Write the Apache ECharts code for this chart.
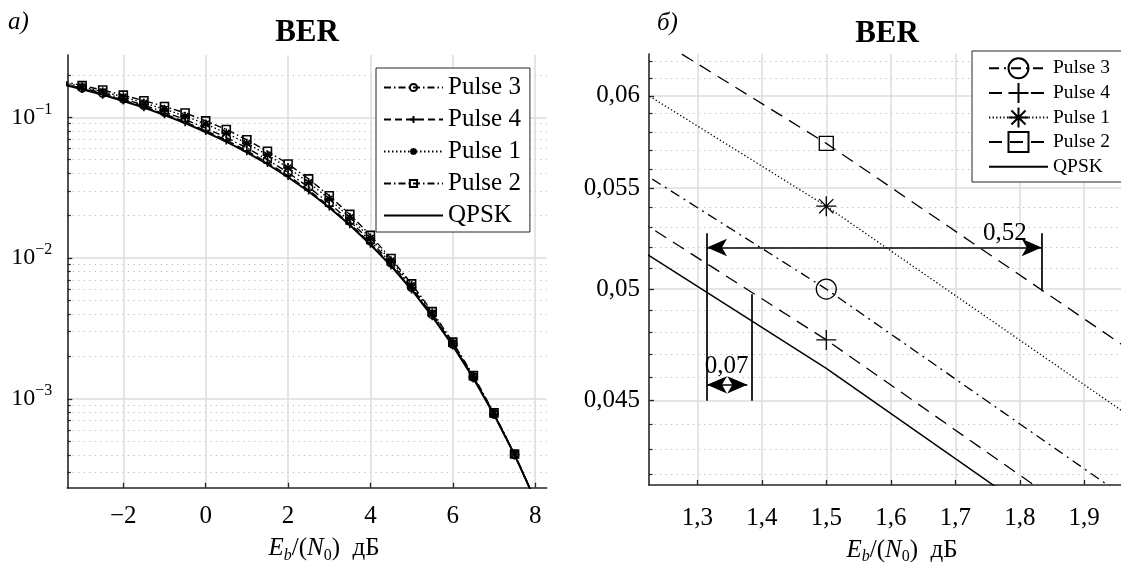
<!DOCTYPE html>
<html><head><meta charset="utf-8">
<script src="https://cdn.jsdelivr.net/npm/echarts@6/dist/echarts.min.js"></script>
<style>html,body{margin:0;padding:0;background:#fff}#c{width:1121px;height:563px}</style>
</head><body><div id="c"></div>
<script>
// ---------- data ----------
const ebn0   = [-3.5,-3,-2.5,-2,-1.5,-1,-0.5,0,0.5,1,1.5,2,2.5,3,3.5,4,4.5,5,5.5,6,6.5,7,7.5,8];
const qpsk   = [0.1724,0.1584,0.1445,0.1307,0.1171,0.1038,0.0910,0.0786,0.0671,0.0563,0.0464,0.0375,0.0297,0.0229,0.01717,0.0125,0.0088,0.00596,0.00386,0.00239,0.0014,0.000773,0.0004,0.000191];
const pulse3 = [0.1758,0.1616,0.1488,0.1353,0.1218,0.1090,0.0965,0.0837,0.0718,0.0606,0.0500,0.04045,0.0319,0.0245,0.01829,0.01325,0.00924,0.0062,0.00398,0.00245,0.001428,0.000781,0.000402,0.000191];
const pulse4 = [0.1741,0.1600,0.1459,0.1327,0.1189,0.1059,0.0928,0.0806,0.0689,0.05787,0.04766,0.03853,0.03044,0.0234,0.01751,0.01273,0.00893,0.00603,0.0039,0.00241,0.001407,0.000776,0.000401,0.000191];
const pulse1 = [0.1776,0.1647,0.1517,0.1398,0.1265,0.1142,0.1019,0.0896,0.0772,0.06534,0.05407,0.0438,0.03445,0.02634,0.0194,0.01388,0.00959,0.00638,0.00407,0.00249,0.001442,0.000788,0.000404,0.000192];
const pulse2 = [0.1810,0.1679,0.1561,0.1438,0.1312,0.1194,0.1074,0.0943,0.0819,0.06924,0.05737,0.04664,0.03653,0.02771,0.02043,0.0145,0.00994,0.00656,0.00417,0.00253,0.001463,0.000796,0.000406,0.000193];

const seriesNames = ['Pulse 3','Pulse 4','Pulse 1','Pulse 2','QPSK'];

// axis ranges and ticks
const xRangeA = [-3.36, 8.28];
const yRangeA = [2.34e-4, 0.277];
const xRangeB = [1.2251, 1.957];
const yRangeB = [0.04156, 0.06242];
const xTicksA = [-2,0,2,4,6,8];
const yTicksA = [1e-3,1e-2,1e-1];
const yMinorA = [3e-4,4e-4,5e-4,6e-4,7e-4,8e-4,9e-4,2e-3,3e-3,4e-3,5e-3,6e-3,7e-3,8e-3,9e-3,0.02,0.03,0.04,0.05,0.06,0.07,0.08,0.09,0.2];
const xTicksB = [1.3,1.4,1.5,1.6,1.7,1.8,1.9];
const yTicksB = [0.045,0.05,0.055,0.06];
const yMinorB = [0.042,0.043,0.044,0.046,0.047,0.048,0.049,0.051,0.052,0.053,0.054,0.056,0.057,0.058,0.059,0.061,0.062];

// dimension annotations (dB, BER)
const dimBase = 0.045, dimTop = 0.0527;
const gap052 = {from: 1.315, to: 1.834, toBer: 0.0499, arrowBer: 0.0520, text: '0,52', textAt: [1.777, 0.05272]};
const gap007 = {from: 1.315, to: 1.3837, toBer: 0.04976, arrowTo: 1.3775, arrowBer: 0.04568, text: '0,07', textAt: [1.3456, 0.04650]};

// ---------- styles ----------
const FONT = "'Liberation Serif', 'Times New Roman', Times, serif";
const AX = '#262626';
const GRIDC = '#dcdcdc';
const MINORC = '#bcbcbc';
const PLUS = 'path://M0,-10L0,10M-10,0L10,0';
const STAR = 'path://M0,-10L0,10M-10,0L10,0M-7.07,-7.07L7.07,7.07M-7.07,7.07L7.07,-7.07';
const DASHDOT_A = [7,3,1.5,3], DASHED_A = [7,4], DOTTED_A = [1.5,2.5];
const DASHDOT_B = [10,5,2,5], DASHED_B = [13,8], DOTTED_B = [1.3,2.3];
const look = {
  'Pulse 3': {sym:'circle', a:DASHDOT_A, b:DASHDOT_B, sa:8, sb:20},
  'Pulse 4': {sym:PLUS,     a:DASHED_A,  b:DASHED_B,  sa:9, sb:20},
  'Pulse 1': {sym:STAR,     a:DOTTED_A,  b:DOTTED_B,  sa:9, sb:20},
  'Pulse 2': {sym:'rect',   a:DASHDOT_A, b:DASHED_B,  sa:8, sb:14},
  'QPSK':    {sym:'none',   a:'solid',   b:'solid',   sa:0, sb:0}
};
const valuesByName = {'Pulse 3':pulse3,'Pulse 4':pulse4,'Pulse 1':pulse1,'Pulse 2':pulse2,'QPSK':qpsk};

function mkSeries(name, panel) {
  const L = look[name];
  const isQ = name === 'QPSK';
  const vals = valuesByName[name];
  return {
    type: 'line',
    name: panel === 0 ? name : 'б ' + name,
    xAxisIndex: panel, yAxisIndex: panel === 0 ? 0 : 2,
    data: ebn0.map((x, i) => [x, vals[i]]),
    symbol: L.sym,
    symbolSize: panel === 0 ? L.sa : L.sb,
    showAllSymbol: true,
    clip: true,
    silent: true,
    z: isQ ? 4 : 3,
    lineStyle: {color: '#000', width: isQ ? (panel === 0 ? 2 : 1.5) : (panel === 0 ? 1.4 : 1.3), type: panel === 0 ? L.a : L.b},
    itemStyle: {color: 'transparent', borderColor: isQ ? 'transparent' : '#000', borderWidth: isQ ? 0 : (panel === 0 ? 1.6 : 1.3)},
    emphasis: {disabled: true}
  };
}

const tickFont = {fontFamily: FONT, fontSize: 25, color: '#000'};
const nameRich = {
  it: {fontFamily: FONT, fontSize: 25, fontStyle: 'italic', color: '#000', lineHeight: 30},
  n:  {fontFamily: FONT, fontSize: 25, color: '#000', lineHeight: 30},
  si: {fontFamily: FONT, fontSize: 16, fontStyle: 'italic', color: '#000', lineHeight: 16, verticalAlign: 'bottom'},
  s:  {fontFamily: FONT, fontSize: 16, color: '#000', lineHeight: 16, verticalAlign: 'bottom'}
};
const xName = '{it|E}{si|b}{n|/(}{it|N}{s|0}{n|)  дБ}';

function xAxisCfg(grid, range, ticks, fmt, margin, gap) {
  return {
    type: 'value', gridIndex: grid, min: range[0], max: range[1],
    axisLine: {onZero: false, lineStyle: {color: AX, width: 1.6}},
    axisTick: {inside: true, length: 5, customValues: ticks, lineStyle: {color: AX, width: 1.3}},
    axisLabel: Object.assign({customValues: ticks, formatter: fmt, margin: margin}, tickFont),
    splitLine: {show: true, lineStyle: {color: GRIDC, width: 1.5}},
    name: xName, nameLocation: 'middle', nameGap: gap, nameMoveOverlap: false,
    nameTextStyle: {rich: nameRich, padding: [0, 0, 0, 34]}
  };
}
function yMainCfg(grid, range, ticks, label, margin) {
  return {
    type: 'log', gridIndex: grid, min: range[0], max: range[1], position: 'left',
    axisLine: {show: true, onZero: false, lineStyle: {color: AX, width: 1.6}},
    axisTick: {inside: true, length: 5, customValues: ticks, lineStyle: {color: AX, width: 1.3}},
    axisLabel: Object.assign({customValues: ticks, margin: margin}, label),
    splitLine: {show: true, lineStyle: {color: GRIDC, width: 1.5}},
    minorTick: {show: false}, minorSplitLine: {show: false}
  };
}
function yMinorCfg(grid, range, ticks) {
  return {
    type: 'log', gridIndex: grid, min: range[0], max: range[1], position: 'left', offset: 0,
    axisLine: {show: false, onZero: false},
    axisTick: {show: true, inside: true, length: 3.5, customValues: ticks, lineStyle: {color: AX, width: 1.2}},
    axisLabel: {show: false, customValues: ticks},
    splitLine: {show: true, lineStyle: {color: MINORC, width: 1, type: [1.3, 4.2]}}
  };
}

const minusFmt = v => (v < 0 ? '\u2212' + (-v) : String(v));
const commaFmt1 = v => v.toFixed(1).replace('.', ',');
const commaFmt3 = v => String(+v.toFixed(3)).replace('.', ',');

const series = [];
seriesNames.forEach(n => series.push(mkSeries(n, 0)));
seriesNames.forEach(n => series.push(mkSeries(n, 1)));

const arrowSym = {symbol: 'arrow', symbolSize: [13, 20]};
series.push({
  type: 'line', name: 'annotations', xAxisIndex: 1, yAxisIndex: 2, data: [], silent: true, z: 5,
  markLine: {
    silent: true, animation: false, symbol: ['none', 'none'], label: {show: false},
    emphasis: {disabled: true},
    lineStyle: {color: '#000', width: 1.7, type: 'solid'},
    data: [
      [{coord: [gap052.from, dimBase]}, {coord: [gap052.from, dimTop]}],
      [{coord: [gap052.to, gap052.toBer]}, {coord: [gap052.to, dimTop]}],
      [{coord: [gap007.to, dimBase]}, {coord: [gap007.to, gap007.toBer]}],
      [Object.assign({coord: [gap052.from, gap052.arrowBer]}, arrowSym), Object.assign({coord: [gap052.to, gap052.arrowBer]}, arrowSym)],
      [Object.assign({coord: [gap007.from, gap007.arrowBer]}, arrowSym), Object.assign({coord: [gap007.arrowTo, gap007.arrowBer]}, arrowSym)]
    ]
  },
  markPoint: {
    silent: true, animation: false, symbol: 'circle', symbolSize: 1,
    itemStyle: {color: 'transparent'},
    label: {show: true, position: 'inside', formatter: p => p.name, fontFamily: FONT, fontSize: 25, color: '#000'},
    data: [
      {name: gap052.text, coord: gap052.textAt},
      {name: gap007.text, coord: gap007.textAt}
    ]
  }
});

const chart = echarts.init(document.getElementById('c'));
chart.setOption({
  animation: false,
  backgroundColor: '#fff',
  textStyle: {fontFamily: FONT},
  title: [
    {text: 'BER', left: 307, top: 17, textAlign: 'center', padding: 0, textStyle: {fontFamily: FONT, fontSize: 31, fontWeight: 'bold', color: '#000'}},
    {text: 'BER', left: 887, top: 18, textAlign: 'center', padding: 0, textStyle: {fontFamily: FONT, fontSize: 31, fontWeight: 'bold', color: '#000'}},
    {text: 'а)', left: 8, top: 10, padding: 0, textStyle: {fontFamily: FONT, fontSize: 25, fontStyle: 'italic', fontWeight: 'normal', color: '#000'}},
    {text: 'б)', left: 657, top: 11, padding: 0, textStyle: {fontFamily: FONT, fontSize: 25, fontStyle: 'italic', fontWeight: 'normal', color: '#000'}}
  ],
  grid: [
    {left: 67.3, top: 55, width: 479.4, height: 432.7, containLabel: false, outerBoundsMode: 'none'},
    {left: 649, top: 54, width: 472, height: 431, containLabel: false, outerBoundsMode: 'none'}
  ],
  legend: [
    {
      data: seriesNames, orient: 'vertical', left: 376, top: 68,
      itemWidth: 59, itemHeight: 9, itemGap: 7, padding: [7, 9, 4, 7],
      borderColor: AX, borderWidth: 1, backgroundColor: '#fff', selectedMode: false,
      textStyle: {fontFamily: FONT, fontSize: 25, color: '#000'}
    },
    {
      data: seriesNames.map(n => 'б ' + n), orient: 'vertical', left: 972, top: 51,
      itemWidth: 59, itemHeight: 25, itemGap: 0, padding: [5, 20, 3, 16],
      borderColor: AX, borderWidth: 1, backgroundColor: '#fff', selectedMode: false,
      formatter: n => n.replace(/^б /, ''),
      textStyle: {fontFamily: FONT, fontSize: 19.5, color: '#000', lineHeight: 24.6, height: 24.6}
    }
  ],
  xAxis: [
    xAxisCfg(0, xRangeA, xTicksA, minusFmt, 16, 46),
    xAxisCfg(1, xRangeB, xTicksB, commaFmt1, 21, 50)
  ],
  yAxis: [
    yMainCfg(0, yRangeA, yTicksA, {
      formatter: v => { const e = Math.round(Math.log10(v)); return '{b|10}{s|' + (e < 0 ? '\u2212' : '') + Math.abs(e) + '}'; },
      rich: {
        b: {fontFamily: FONT, fontSize: 24, color: '#000', lineHeight: 32},
        s: {fontFamily: FONT, fontSize: 16, color: '#000', lineHeight: 16, verticalAlign: 'top'}
      }
    }, 15),
    yMinorCfg(0, yRangeA, yMinorA),
    yMainCfg(1, yRangeB, yTicksB, Object.assign({formatter: commaFmt3}, tickFont), 9),
    yMinorCfg(1, yRangeB, yMinorB)
  ],
  series: series
});
</script>
</body></html>
